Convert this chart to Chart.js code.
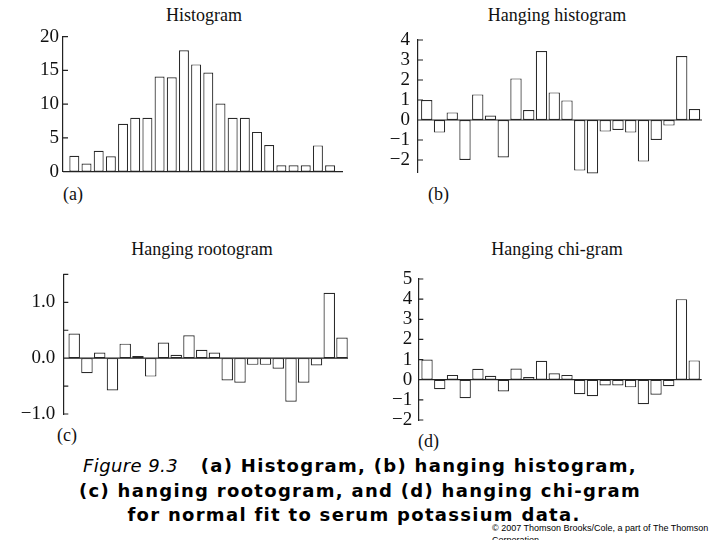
<!DOCTYPE html>
<html><head><meta charset="utf-8">
<script src="https://cdn.jsdelivr.net/npm/chart.js@4"></script>
<style>
body{margin:0;background:#fff;width:720px;height:540px;overflow:hidden;position:relative}
canvas{position:absolute}
.t{position:absolute;font-family:"Liberation Serif",serif;font-size:18px;line-height:18px;color:#111;white-space:nowrap}
.tc{text-align:center;width:240px}
.cap{position:absolute;left:0;width:720px;text-align:center;font-family:"DejaVu Sans",sans-serif;font-weight:bold;font-size:18px;line-height:24.5px;letter-spacing:1.3px;color:#000;white-space:nowrap}
.fig{font-weight:normal;font-style:italic;letter-spacing:0.4px}
.copy{position:absolute;font-family:"Liberation Sans",Arial,sans-serif;font-size:9px;line-height:10px;color:#000;white-space:nowrap}
</style></head><body>
<div class="t tc" style="left:84px;top:6px">Histogram</div>
<div class="t tc" style="left:437px;top:6px">Hanging histogram</div>
<div class="t tc" style="left:82px;top:240px">Hanging rootogram</div>
<div class="t tc" style="left:437px;top:240px">Hanging chi-gram</div>
<div class="t" style="left:63px;top:185px">(a)</div>
<div class="t" style="left:428px;top:185px">(b)</div>
<div class="t" style="left:57px;top:426px">(c)</div>
<div class="t" style="left:418px;top:432px">(d)</div>
<canvas id="ca" width="360" height="172" style="left:0;top:20px"></canvas>
<canvas id="cb" width="360" height="172" style="left:360px;top:20px"></canvas>
<canvas id="cc" width="360" height="180" style="left:0;top:255px"></canvas>
<canvas id="cd" width="360" height="185" style="left:360px;top:255px"></canvas>
<div class="cap" style="top:454px"><span class="fig">Figure 9.3</span>&nbsp;&nbsp; (a) Histogram, (b) hanging histogram,</div>
<div class="cap" style="top:478.5px">(c) hanging rootogram, and (d) hanging chi-gram</div>
<div class="cap" style="top:503px;left:-6px">for normal fit to serum potassium data.</div>
<div class="copy" style="left:492px;top:523px">© 2007 Thomson Brooks/Cole, a part of The Thomson</div>
<div class="copy" style="left:492px;top:535px">Corporation</div>
<script>
const bins = [1,2,3,4,5,6,7,8,9,10,11,12,13,14,15,16,17,18,19,20,21,22];
const histCounts = [2.35,1.2,3.1,2.3,7.1,8.0,8.0,14.1,14.0,18.0,15.9,14.7,10.1,8.0,8.0,5.9,3.95,0.95,0.95,0.95,3.9,0.95];
const hangHist = [1.0,-0.63,0.38,-2.0,1.28,0.22,-1.87,2.08,0.5,3.45,1.38,0.98,-2.53,-2.67,-0.58,-0.5,-0.63,-2.08,-1.0,-0.28,3.2,0.55];
const hangRoot = [0.44,-0.27,0.1,-0.58,0.26,0.04,-0.33,0.28,0.06,0.41,0.15,0.1,-0.4,-0.44,-0.12,-0.12,-0.19,-0.78,-0.44,-0.13,1.17,0.37];
const hangChi = [1.0,-0.47,0.24,-0.92,0.54,0.2,-0.58,0.56,0.14,0.94,0.32,0.24,-0.72,-0.82,-0.29,-0.29,-0.38,-1.22,-0.75,-0.32,4.0,0.96];
const ticksA = [0,5,10,15,20];
const ticksB = [-2,-1,0,1,2,3,4];
const ticksC = [-1,-0.5,0,0.5,1,1.5];
const ticksD = [-2,-1,0,1,2,3,4,5];

const fmtInt = v => String(v).replace('-', '\u2212');
const fmtOne = v => Number.isInteger(v) ? v.toFixed(1).replace('-', '\u2212') : '';

const inTicks = {
  id: 'inTicks',
  afterDraw(chart) {
    const y = chart.scales.y, ctx = chart.ctx, a = chart.chartArea;
    ctx.save();
    ctx.strokeStyle = '#222';
    ctx.lineWidth = 1.2;
    ctx.beginPath();
    y.ticks.forEach((t, i) => {
      const py = y.getPixelForTick(i);
      ctx.moveTo(a.left, py); ctx.lineTo(a.left + 5, py);
    });
    const p0 = y.getPixelForValue(0);
    ctx.moveTo(a.left, p0); ctx.lineTo(a.right, p0);
    ctx.stroke();
    ctx.restore();
  }
};

function panel(id, values, yMin, yMax, tickVals, fmt, xMin, xMax, barPct, axisW, pad, labelPad) {
  new Chart(document.getElementById(id), {
    type: 'bar',
    data: {
      datasets: [{
        data: values.map((v, i) => ({x: bins[i], y: v})),
        backgroundColor: '#fff',
        borderColor: '#2a2a2a',
        borderWidth: 1.2,
        borderSkipped: false,
        barPercentage: barPct,
        categoryPercentage: 1,
        clip: false
      }]
    },
    options: {
      responsive: false,
      animation: false,
      events: [],
      layout: {padding: pad},
      plugins: {legend: {display: false}, tooltip: {enabled: false}},
      scales: {
        x: {type: 'linear', display: false, min: xMin, max: xMax, offset: false},
        y: {
          type: 'linear', min: yMin, max: yMax,
          afterBuildTicks: s => { s.ticks = tickVals.map(v => ({value: v})); },
          afterFit: s => { s.width = axisW; },
          grid: {display: false, drawTicks: false},
          border: {display: true, color: '#222', width: 1.2},
          ticks: {
            autoSkip: false,
            padding: labelPad, color: '#111',
            font: {family: '"Liberation Serif", serif', size: 19},
            callback: v => fmt(v)
          }
        }
      }
    },
    plugins: [inTicks]
  });
}

panel('ca', histCounts, 0, 20, ticksA, fmtInt, 0.07, 23.06, 0.82, 63, {left:0, right:17, top:16.7, bottom:20.3}, 4);
panel('cb', hangHist, -2.6, 4, ticksB, fmtInt, 0.314, 22.59, 0.89, 58, {left:0, right:18, top:20, bottom:20}, 8);
panel('cc', hangRoot, -1, 1.5, ticksC, fmtOne, 0.145, 22.47, 0.9, 63.3, {left:0, right:12, top:18, bottom:21}, 8);
panel('cd', hangChi, -2, 5, ticksD, fmtInt, 0.314, 22.59, 0.89, 58.3, {left:0, right:18.3, top:24, bottom:20}, 6);
</script>
</body></html>
